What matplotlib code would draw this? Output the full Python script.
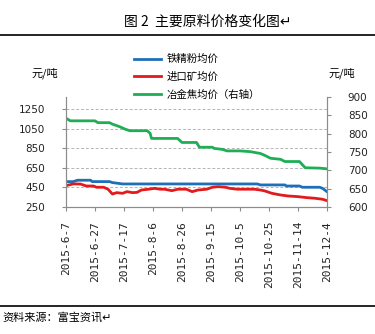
import matplotlib
matplotlib.use('Agg')
import matplotlib.pyplot as plt
from matplotlib.lines import Line2D
import pandas as pd

plt.rcParams['font.family'] = ['DejaVu Sans']
cjk = ['Noto Sans CJK SC', 'DejaVu Sans']

# 铁精粉均价 (left axis)
iron_dates = ['2015-06-07', '2015-06-12', '2015-06-15', '2015-06-24', '2015-06-25', '2015-07-07',
              '2015-07-09', '2015-07-16', '2015-10-17', '2015-10-19', '2015-11-05', '2015-11-06',
              '2015-11-15', '2015-11-17', '2015-11-29', '2015-12-01', '2015-12-04']
iron_vals = [510, 510, 524, 524, 510, 510, 500, 486, 486, 476, 476, 465, 465, 452, 452, 440, 407]

# 进口矿均价 (left axis)
ore_dates = ['2015-06-07', '2015-06-12', '2015-06-17', '2015-06-21', '2015-06-26', '2015-06-28',
             '2015-07-03', '2015-07-06', '2015-07-09', '2015-07-12', '2015-07-16', '2015-07-19',
             '2015-07-23', '2015-07-26', '2015-07-29', '2015-08-03', '2015-08-07', '2015-08-11',
             '2015-08-14', '2015-08-19', '2015-08-23', '2015-08-29', '2015-09-02', '2015-09-06',
             '2015-09-12', '2015-09-16', '2015-09-20', '2015-09-25', '2015-09-28', '2015-10-03',
             '2015-10-15', '2015-10-19', '2015-10-22', '2015-10-27', '2015-11-02', '2015-11-07',
             '2015-11-14', '2015-11-20', '2015-11-26', '2015-12-01', '2015-12-04']
ore_vals = [469, 486, 485, 465, 465, 452, 452, 432, 383, 397, 390, 407, 397, 400, 424, 432,
            441, 432, 432, 417, 432, 432, 407, 424, 432, 452, 458, 452, 441, 432,
            432, 424, 415, 390, 373, 363, 356, 346, 339, 329, 315]

# 冶金焦均价 (right axis)
coke_dates = ['2015-06-07', '2015-06-10', '2015-06-27', '2015-06-29', '2015-07-07', '2015-07-09',
              '2015-07-14', '2015-07-18', '2015-07-21', '2015-08-02', '2015-08-04', '2015-08-05',
              '2015-08-23', '2015-08-26', '2015-09-05', '2015-09-07', '2015-09-16', '2015-09-17',
              '2015-09-23', '2015-09-26', '2015-10-05', '2015-10-12', '2015-10-19', '2015-10-22',
              '2015-10-26', '2015-11-02', '2015-11-05', '2015-11-15', '2015-11-19', '2015-11-29',
              '2015-12-04']
coke_vals = [842, 835, 835, 830, 830, 826, 819, 812, 808, 808, 801, 787, 787, 776, 776, 763,
             763, 760, 757, 753, 753, 751, 746, 741, 733, 730, 724, 724, 707, 706, 704]

tick_dates = pd.date_range('2015-06-07', '2015-12-04', freq='20D')
tick_labels = [f'{d.year}-{d.month}-{d.day}' for d in tick_dates]

left_ticks = [250, 450, 650, 850, 1050, 1250]
right_ticks = [600, 650, 700, 750, 800, 850, 900]

fig = plt.figure(figsize=(3.75, 3.34), dpi=100)
ax = fig.add_axes([66/375, 1-207/334, 261/375, 110/334])
ax2 = ax.twinx()

l1, = ax.plot(pd.to_datetime(iron_dates), iron_vals, color='#1f6fb8', lw=2, label='铁精粉均价')
l2, = ax.plot(pd.to_datetime(ore_dates), ore_vals, color='#e31a1c', lw=2, label='进口矿均价')
l3, = ax2.plot(pd.to_datetime(coke_dates), coke_vals, color='#1fae55', lw=2, label='冶金焦均价（右轴）')

ax.set_xlim(tick_dates[0], tick_dates[-1])
ax.set_ylim(250, 1376)
ax.set_yticks(left_ticks)
ax2.set_ylim(600, 900)
ax2.set_yticks(right_ticks)
ax.set_xticks(tick_dates)
ax.set_xticklabels(tick_labels, rotation=90, family='DejaVu Sans Mono', fontsize=8)
ax.yaxis.grid(True, linestyle=(0, (3, 2)), color='#b5b5b5', lw=0.7)
ax.set_axisbelow(True)

for a in (ax, ax2):
    for s in a.spines.values():
        s.set_color('#8c8c8c')
    a.spines['top'].set_visible(False)
    a.tick_params(direction='out', length=3, color='#8c8c8c', labelsize=7.5, labelcolor='#222222', pad=2)
ax.tick_params(axis='y', pad=12)
ax.tick_params(axis='x', labelsize=8, pad=7)
ax2.tick_params(axis='y', pad=12)

fig.legend(handles=[l1, l2, l3], loc='upper left', bbox_to_anchor=(130/375, 1-50/334),
           frameon=False, prop={'family': cjk, 'size': 7.5}, handlelength=2.6,
           handletextpad=0.5, labelspacing=0.72, borderaxespad=0)

fig.text(45/375, 1-73/334, '元/吨', ha='center', va='center', fontsize=8, family=cjk)
fig.text(342/375, 1-73/334, '元/吨', ha='center', va='center', fontsize=8, family=cjk)

fig.text(208/375, 1-22/334, '图 2  主要原料价格变化图↵', ha='center', va='center',
         fontsize=10, family=cjk)
fig.add_artist(Line2D([0, 1], [1-35/334]*2, color='black', lw=1.2))
fig.add_artist(Line2D([0, 1], [1-306/334]*2, color='black', lw=1.2))
fig.text(2/375, 1-317/334, '资料来源：富宝资讯↵', ha='left', va='center', fontsize=8, family=cjk)

fig.savefig('out.png', dpi=100)
